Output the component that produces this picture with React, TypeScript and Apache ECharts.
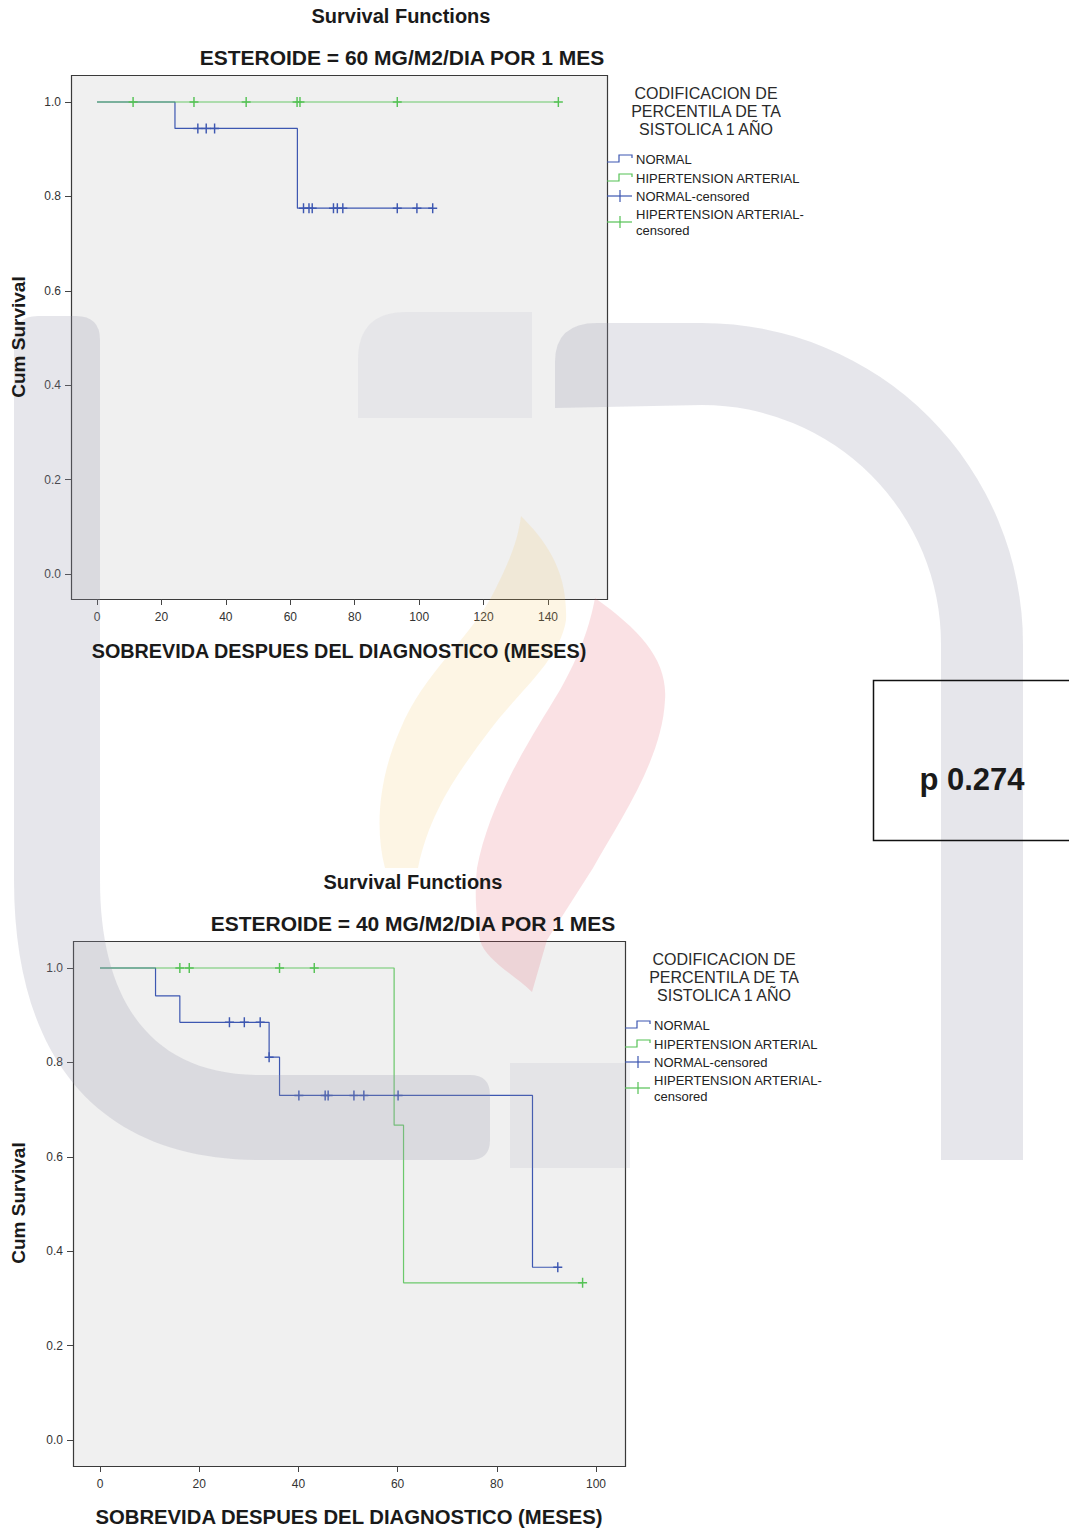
import React, { useEffect, useRef } from "react";
import * as echarts from "echarts";

const FONT = "'Liberation Sans', Arial, Helvetica, sans-serif";
const BLUE = "#3d57b1";
const GREEN = "#55c255";

// ---------- data ----------
const topXTicks = [0, 20, 40, 60, 80, 100, 120, 140];
const botXTicks = [0, 20, 40, 60, 80, 100];
const yTicks = [0, 0.2, 0.4, 0.6, 0.8, 1.0];
// visible axis ranges (plot frame edges)
const topXRange = [-8.07, 158.3];
const botXRange = [-5.44, 105.85];
const topYRange = [-0.053, 1.0572];
const botYRange = [-0.0551, 1.0572];

const topTitle = "Survival Functions";
const topSubtitle = "ESTEROIDE = 60 MG/M2/DIA POR 1 MES";
const botTitle = "Survival Functions";
const botSubtitle = "ESTEROIDE = 40 MG/M2/DIA POR 1 MES";
const xName = "SOBREVIDA DESPUES DEL DIAGNOSTICO (MESES)";
const yName = "Cum Survival";
const legendTitle = ["CODIFICACION DE", "PERCENTILA DE TA", "SISTOLICA 1 AÑO"];
const legendLabels = ["NORMAL", "HIPERTENSION ARTERIAL", "NORMAL-censored", "HIPERTENSION ARTERIAL-", "censored"];
const pValueText = "p 0.274";

// ESTEROIDE = 60
const topNormalCurve = [[0, 1], [24.2, 0.944], [62.2, 0.775], [104.2, 0.775]];
const topNormalCensored = [
  [31.3, 0.944], [33.9, 0.944], [36.5, 0.944],
  [64.1, 0.775], [65.8, 0.775], [66.8, 0.775], [73.4, 0.775], [74.6, 0.775], [76.3, 0.775],
  [93.2, 0.775], [99.3, 0.775], [104.2, 0.775],
];
const topHtaCurve = [[0, 1], [143.2, 1]];
const topHtaCensored = [[11.2, 1], [30.1, 1], [46.3, 1], [62.1, 1], [63.0, 1], [93.2, 1], [143.2, 1]];

// ESTEROIDE = 40
const botNormalCurve = [[0, 1], [11.2, 0.941], [16.1, 0.885], [34.1, 0.811], [36.2, 0.73], [87.2, 0.366], [92.3, 0.366]];
const botNormalCensored = [
  [26.1, 0.885], [29.1, 0.885], [32.3, 0.885], [34.1, 0.811],
  [40.1, 0.73], [45.4, 0.73], [46.0, 0.73], [51.2, 0.73], [53.2, 0.73], [60.1, 0.73],
  [92.3, 0.366],
];
const botHtaCurve = [[0, 1], [59.3, 0.667], [61.2, 0.333], [97.3, 0.333]];
const botHtaCensored = [[16.1, 1], [18.0, 1], [36.2, 1], [43.2, 1], [97.3, 0.333]];

// ---------- watermark shapes ----------
const WM = {
  wmLeftU:
    "M14 340 Q14 316 38 316 L76 316 Q100 316 100 340 L100 880 C100 1000 150 1075 260 1075 L470 1075 Q490 1075 490 1095 L490 1140 Q490 1160 470 1160 L260 1160 C100 1160 14 1060 14 880 Z",
  wmArch:
    "M555 408 L555 362 Q555 323 597 323 L702 323 A321 321 0 0 1 1023 644 L1023 1160 L941 1160 L941 644 A239 239 0 0 0 702 405 Z",
  wmMidBlock: "M358 360 Q358 312 406 312 L532 312 L532 418 L358 418 Z",
  wmBotBlock: "M510 1063 L630 1063 L630 1168 L510 1168 Z",
  wmYellow:
    "M521 516 C545 540 568 570 566 620 C560 660 520 690 490 730 C460 770 430 810 418 868 L385 868 C375 830 378 780 400 730 C425 670 470 640 495 590 C510 560 518 540 521 516 Z",
  wmRed:
    "M595 598 C640 630 668 660 665 700 C662 760 620 820 593 868 L547 940 L532 992 C515 975 485 960 480 940 C475 910 475 890 477 868 C490 800 530 740 560 690 C580 655 590 625 595 598 Z",
};
let registered = false;
function registerWatermark() {
  if (registered) return;
  Object.entries(WM).forEach(([name, d]) => {
    echarts.graphic.registerShape(name, echarts.graphic.extendPath(d, {}));
  });
  registered = true;
}

const CROSS =
  "path://M4.2,0 L5.8,0 L5.8,4.2 L10,4.2 L10,5.8 L5.8,5.8 L5.8,10 L4.2,10 L4.2,5.8 L0,5.8 L0,4.2 L4.2,4.2 Z";

function legendGraphics(dx: number, dy: number) {
  const els: any[] = [];
  legendTitle.forEach((t, i) => {
    els.push({
      type: "text", x: 706 + dx, y: 93 + dy + i * 18, z: 20,
      style: { text: t, fontSize: 16, fontFamily: FONT, fill: "#2a2a2a", align: "center", verticalAlign: "middle" },
    });
  });
  const ys = [159, 178, 196, 214, 230];
  legendLabels.forEach((t, i) => {
    els.push({
      type: "text", x: 636 + dx, y: ys[i] + dy, z: 20,
      style: { text: t, fontSize: 13, fontFamily: FONT, fill: "#222", align: "left", verticalAlign: "middle" },
    });
  });
  [[BLUE, 0], [GREEN, 19]].forEach(([c, off]: any) => {
    els.push({
      type: "polyline", z: 20,
      shape: { points: [[607 + dx, 162 + off + dy], [619 + dx, 162 + off + dy], [619 + dx, 155 + off + dy], [632 + dx, 155 + off + dy], [632 + dx, 158 + off + dy]] },
      style: { stroke: c, lineWidth: 1.2, fill: "none" },
    });
  });
  [[BLUE, 196], [GREEN, 222]].forEach(([c, y]: any) => {
    els.push({ type: "line", z: 20, shape: { x1: 607 + dx, y1: y + dy, x2: 632 + dx, y2: y + dy }, style: { stroke: c, lineWidth: 1.2 } });
    els.push({ type: "line", z: 20, shape: { x1: 620 + dx, y1: y - 6 + dy, x2: 620 + dx, y2: y + 6 + dy }, style: { stroke: c, lineWidth: 1.2 } });
  });
  return els;
}

function buildOption() {
  const axisLabelBase = { fontSize: 12, color: "#333", fontFamily: FONT };
  const mkX = (gridIndex: number, ticks: number[], range: number[]) => ({
    type: "value", gridIndex, min: range[0], max: range[1], position: "bottom",
    axisLine: { show: false, onZero: false }, splitLine: { show: false },
    axisTick: { show: true, length: 6, customValues: ticks, lineStyle: { color: "#444", width: 1 } },
    axisLabel: { ...axisLabelBase, margin: 12, customValues: ticks, formatter: (v: number) => String(Math.round(v)) },
  });
  const mkY = (gridIndex: number, range: number[]) => ({
    type: "value", gridIndex, min: range[0], max: range[1], position: "left",
    axisLine: { show: false, onZero: false }, splitLine: { show: false },
    axisTick: { show: true, length: 6, customValues: yTicks, lineStyle: { color: "#444", width: 1 } },
    axisLabel: { ...axisLabelBase, margin: 10, customValues: yTicks, formatter: (v: number) => v.toFixed(1) },
  });
  const lineS = (idx: number, data: number[][], color: string, z: number, opacity = 1) => ({
    type: "line", xAxisIndex: idx, yAxisIndex: idx, data, step: "end", symbol: "none", clip: false, z,
    lineStyle: { color, width: 1.2, opacity }, silent: true,
  });
  const censS = (idx: number, data: number[][], color: string, z: number) => ({
    type: "scatter", xAxisIndex: idx, yAxisIndex: idx, data, symbol: CROSS, symbolSize: [9, 10], clip: false, z,
    itemStyle: { color, opacity: 1 }, silent: true,
  });

  const textEl = (text: string, x: number, y: number, size: number, weight = "bold", rotation = 0) => ({
    type: "text", x, y, rotation, z: 20,
    style: { text, fontSize: size, fontWeight: weight, fontFamily: FONT, fill: "#1a1a1a", align: "center", verticalAlign: "middle" },
  });

  const wmGray = "rgba(150,150,172,0.24)";
  const graphic: any[] = [
    { type: "rect", z: 0, shape: { x: 71.5, y: 75.5, width: 536, height: 524 }, style: { fill: "#f0f0f0", stroke: "#3a3a3a", lineWidth: 1.2 } },
    { type: "rect", z: 0, shape: { x: 73.5, y: 941.5, width: 552, height: 525 }, style: { fill: "#f0f0f0", stroke: "#3a3a3a", lineWidth: 1.2 } },
    { type: "wmLeftU", x: 0, y: 0, z: 10, silent: true, style: { fill: wmGray } },
    { type: "wmArch", x: 0, y: 0, z: 10, silent: true, style: { fill: wmGray } },
    { type: "wmMidBlock", x: 0, y: 0, z: 10, silent: true, style: { fill: "rgba(150,150,172,0.1)" } },
    { type: "wmBotBlock", x: 0, y: 0, z: 10, silent: true, style: { fill: "rgba(150,150,172,0.12)" } },
    { type: "wmYellow", x: 0, y: 0, z: 10, silent: true, style: { fill: "rgba(245,190,90,0.16)" } },
    { type: "wmRed", x: 0, y: 0, z: 10, silent: true, style: { fill: "rgba(225,80,95,0.17)" } },
    textEl(topTitle, 401, 16, 20),
    textEl(topSubtitle, 402, 57, 21),
    textEl(botTitle, 413, 882, 20),
    textEl(botSubtitle, 413, 923, 21),
    textEl(xName, 339, 651, 19.8),
    textEl(xName, 349, 1517, 20.3),
    textEl(yName, 18, 337, 19, "bold", Math.PI / 2),
    textEl(yName, 18, 1203, 19, "bold", Math.PI / 2),
    { type: "rect", z: 20, shape: { x: 873.5, y: 680.5, width: 230, height: 160 }, style: { fill: "none", stroke: "#111", lineWidth: 1.5 } },
    textEl(pValueText, 972, 779, 31),
    ...legendGraphics(0, 0),
    ...legendGraphics(18, 866),
  ];

  return {
    animation: false,
    backgroundColor: "#ffffff",
    grid: [
      { left: 71, top: 75, width: 536, height: 524, containLabel: false },
      { left: 73, top: 941, width: 552, height: 525, containLabel: false },
    ],
    xAxis: [mkX(0, topXTicks, topXRange), mkX(1, botXTicks, botXRange)],
    yAxis: [mkY(0, topYRange), mkY(1, botYRange)],
    series: [
      lineS(0, topNormalCurve, BLUE, 3),
      lineS(0, topHtaCurve, GREEN, 4, 0.85),
      censS(0, topNormalCensored, BLUE, 5),
      censS(0, topHtaCensored, GREEN, 6),
      lineS(1, botNormalCurve, BLUE, 3),
      lineS(1, botHtaCurve, GREEN, 4, 0.85),
      censS(1, botNormalCensored, BLUE, 5),
      censS(1, botHtaCensored, GREEN, 6),
    ],
    graphic,
  };
}

export default function App() {
  const ref = useRef<HTMLDivElement>(null);
  useEffect(() => {
    registerWatermark();
    const chart = echarts.init(ref.current!, null, { renderer: "svg" });
    chart.setOption(buildOption() as any);
    return () => chart.dispose();
  }, []);
  return (
    <div
      ref={ref}
      style={{ position: "absolute", left: 0, top: 0, width: 1069, height: 1532, background: "#fff" }}
    />
  );
}
